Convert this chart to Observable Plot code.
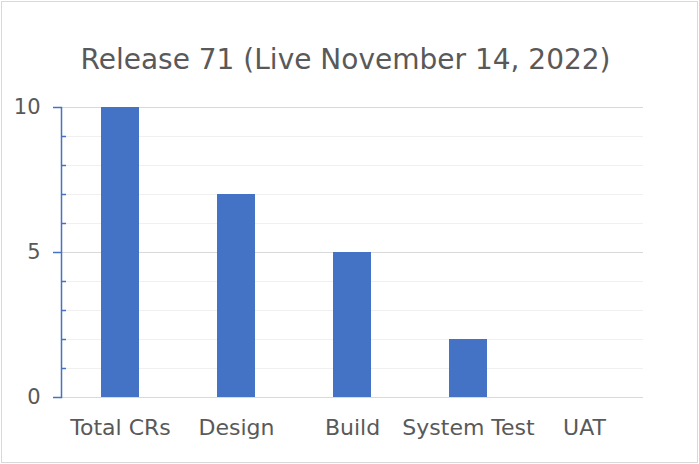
<!DOCTYPE html>
<html><head><meta charset="utf-8">
<script src="https://cdn.jsdelivr.net/npm/d3@7"></script>
<script src="https://cdn.jsdelivr.net/npm/@observablehq/plot@0.6"></script>
<style>body{margin:0;background:#fff}svg{display:block}</style>
</head><body><div id="chart"></div>
<script>
const title = "Release 71 (Live November 14, 2022)";
const categories = ["Total CRs", "Design", "Build", "System Test", "UAT"];
const values = [10, 7, 5, 2, 0];
const majorTicks = [0, 5, 10];
const minorTicks = [1, 2, 3, 4, 6, 7, 8, 9];

const data = categories.map((c, i) => ({category: c, value: values[i]}));
const blue = "#4472c4";
const gray = "#595959";
const font = "DejaVu Sans";

const chart = Plot.plot({
  width: 699, height: 464,
  marginTop: 107, marginBottom: 67, marginLeft: 61, marginRight: 56,
  style: {fontFamily: font, background: "#fff"},
  x: {domain: categories, paddingInner: 0.67, paddingOuter: 0.335, label: null},
  y: {domain: [0, 10], label: null},
  marks: [
    Plot.ruleY(minorTicks, {stroke: "#f0f0f0", strokeWidth: 1}),
    Plot.ruleY(majorTicks, {stroke: "#d9d9d9", strokeWidth: 1}),
    Plot.barY(data, {x: "category", y: "value", fill: blue}),
    Plot.frame({anchor: "left", stroke: blue, strokeWidth: 1.5}),
    Plot.ruleY(minorTicks, {stroke: blue, strokeWidth: 1.5, insetRight: 577}),
    Plot.ruleY(majorTicks, {stroke: blue, strokeWidth: 1.5, insetRight: 574, dx: -8}),
    Plot.axisY({ticks: majorTicks, tickSize: 0, tickPadding: 21, fontSize: 21, fill: gray, tickFormat: d => String(d)}),
    Plot.axisX({tickSize: 0, tickPadding: 22, fontSize: 22, fill: gray}),
    Plot.text([title], {text: d => d, frameAnchor: "top", dy: -47, dx: -7, lineAnchor: "middle", fontSize: 28, fill: gray})
  ]
});
chart.style.outline = "1px solid #d9d9d9";
chart.style.outlineOffset = "-2px";
document.getElementById("chart").append(chart);
</script></body></html>
